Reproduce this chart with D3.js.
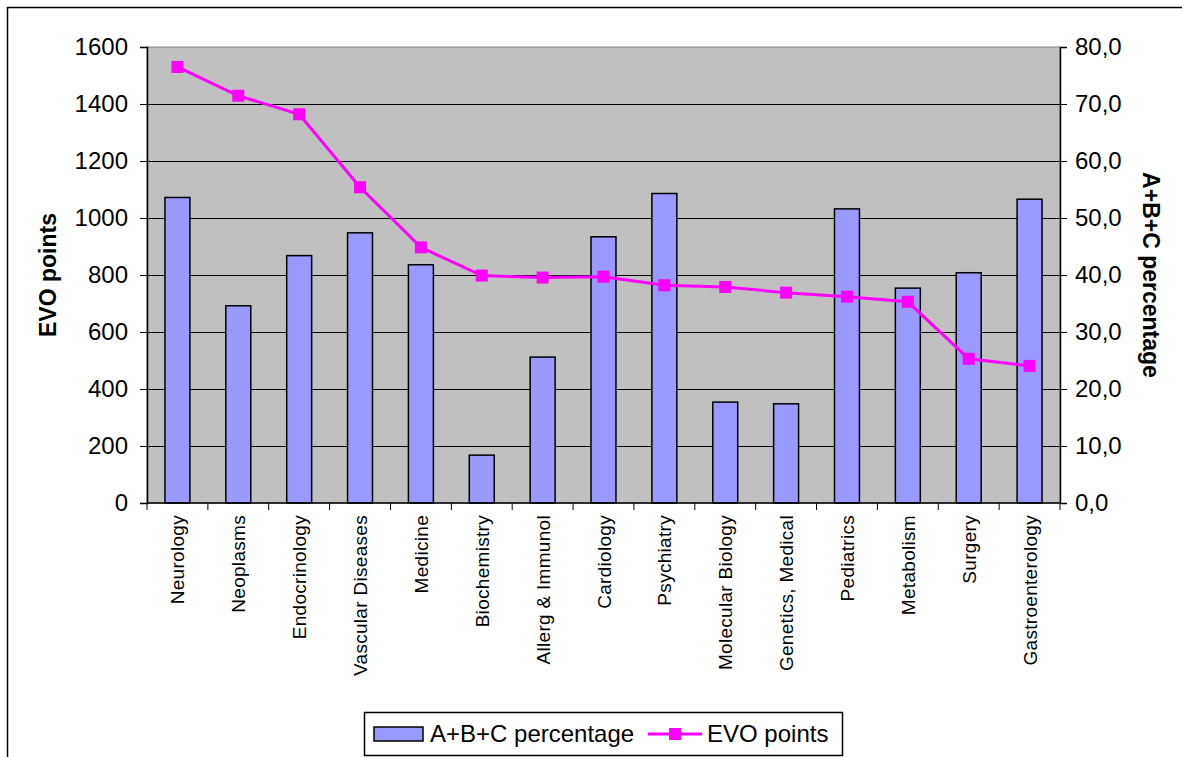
<!DOCTYPE html>
<html>
<head>
<meta charset="utf-8">
<script src="https://cdn.jsdelivr.net/npm/d3@7"></script>
<style>
  html, body { margin: 0; padding: 0; background: #fff; }
  svg { display: block; font-family: "Liberation Sans", Arial, sans-serif; }
</style>
</head>
<body>
<div id="chart"></div>
<script>
// categories along the x axis
const categories = [
  "Neurology", "Neoplasms", "Endocrinology", "Vascular Diseases", "Medicine",
  "Biochemistry", "Allerg & Immunol", "Cardiology", "Psychiatry", "Molecular Biology",
  "Genetics, Medical", "Pediatrics", "Metabolism", "Surgery", "Gastroenterology"
];
// bars, right axis
const abcPercentage = [53.6, 34.6, 43.4, 47.4, 41.8, 8.4, 25.6, 46.7, 54.3, 17.7, 17.4, 51.6, 37.7, 40.4, 53.3];
// line, left axis
const evoPoints = [1530, 1429, 1364, 1108, 897, 798, 791, 794, 764, 758, 738, 724, 706, 506, 481];

const leftTicks = [0, 200, 400, 600, 800, 1000, 1200, 1400, 1600];
const rightTicks = [0, 10, 20, 30, 40, 50, 60, 70, 80];

const W = 1182, H = 757;
const plot = { l: 147, r: 1060, t: 47, b: 503 };

const svg = d3.select("#chart").append("svg")
  .attr("width", W)
  .attr("height", H);

// outer chart border
svg.append("rect")
  .attr("x", 7.5).attr("y", 7.5)
  .attr("width", 1300).attr("height", 900)
  .attr("fill", "#fff")
  .attr("stroke", "#000")
  .attr("stroke-width", 1.5);

const x = d3.scaleBand().domain(categories).range([plot.l, plot.r]).padding(0);
const yL = d3.scaleLinear().domain([0, 1600]).range([plot.b, plot.t]);
const yR = d3.scaleLinear().domain([0, 80]).range([plot.b, plot.t]);

// plot background
svg.append("rect")
  .attr("x", plot.l).attr("y", plot.t)
  .attr("width", plot.r - plot.l).attr("height", plot.b - plot.t)
  .attr("fill", "#c0c0c0")
  .attr("stroke", "#808080");

// gridlines
svg.append("g").selectAll("line")
  .data(leftTicks.slice(1, -1))
  .join("line")
  .attr("x1", plot.l).attr("x2", plot.r)
  .attr("y1", d => Math.round(yL(d)) + 0.5).attr("y2", d => Math.round(yL(d)) + 0.5)
  .attr("stroke", "#000");

// bars
const barW = x.bandwidth() * 0.41;
svg.append("g").selectAll("rect")
  .data(abcPercentage)
  .join("rect")
  .attr("x", (d, i) => x(categories[i]) + (x.bandwidth() - barW) / 2)
  .attr("y", d => yR(d))
  .attr("width", barW)
  .attr("height", d => plot.b - yR(d))
  .attr("fill", "#9999ff")
  .attr("stroke", "#000")
  .attr("stroke-width", 1.5);

// left axis
const axL = svg.append("g")
  .attr("transform", `translate(${plot.l},0)`)
  .call(d3.axisLeft(yL).tickValues(leftTicks).tickSize(7).tickPadding(12).tickFormat(d3.format("d")));
axL.select(".domain").attr("stroke", "#000").attr("stroke-width", 1.5);
axL.selectAll("text").attr("font-size", 24).attr("fill", "#000").attr("font-family", "Liberation Sans, Arial");

// right axis
const axR = svg.append("g")
  .attr("transform", `translate(${plot.r},0)`)
  .call(d3.axisRight(yR).tickValues(rightTicks).tickSize(7).tickPadding(8)
    .tickFormat(d => d3.format(".1f")(d).replace(".", ",")));
axR.select(".domain").attr("stroke", "#000").attr("stroke-width", 1.5);
axR.selectAll("text").attr("font-size", 24).attr("fill", "#000").attr("font-family", "Liberation Sans, Arial");

// bottom axis: ticks at band boundaries
const axB = svg.append("g").attr("transform", `translate(0,${plot.b})`);
axB.append("line")
  .attr("x1", plot.l).attr("x2", plot.r)
  .attr("y1", 0).attr("y2", 0)
  .attr("stroke", "#000").attr("stroke-width", 1.5);
axB.selectAll("line.tick")
  .data(categories.concat(["_end"]))
  .join("line")
  .attr("class", "tick")
  .attr("x1", (d, i) => i < categories.length ? x(d) : plot.r)
  .attr("x2", (d, i) => i < categories.length ? x(d) : plot.r)
  .attr("y1", 0).attr("y2", 7)
  .attr("stroke", "#000");
axB.selectAll("text")
  .data(categories)
  .join("text")
  .attr("transform", d => `translate(${x(d) + x.bandwidth() / 2 + 7},12) rotate(-90)`)
  .attr("text-anchor", "end")
  .attr("font-size", 19)
  .attr("letter-spacing", 0.3)
  .attr("fill", "#000")
  .text(d => d);

// EVO line
const line = d3.line()
  .x((d, i) => x(categories[i]) + x.bandwidth() / 2)
  .y(d => yL(d));
svg.append("path")
  .datum(evoPoints)
  .attr("d", line)
  .attr("fill", "none")
  .attr("stroke", "#ff00ff")
  .attr("stroke-width", 3);
svg.append("g").selectAll("rect")
  .data(evoPoints)
  .join("rect")
  .attr("x", (d, i) => x(categories[i]) + x.bandwidth() / 2 - 6)
  .attr("y", d => yL(d) - 6)
  .attr("width", 12).attr("height", 12)
  .attr("fill", "#ff00ff");

// axis titles
svg.append("text")
  .attr("transform", `translate(56,${(plot.t + plot.b) / 2}) rotate(-90)`)
  .attr("text-anchor", "middle")
  .attr("font-size", 23)
  .attr("font-weight", "bold")
  .text("EVO points");
svg.append("text")
  .attr("transform", `translate(1143,${(plot.t + plot.b) / 2}) rotate(90)`)
  .attr("text-anchor", "middle")
  .attr("font-size", 23)
  .attr("font-weight", "bold")
  .text("A+B+C percentage");

// legend
const lg = svg.append("g");
lg.append("rect")
  .attr("x", 364.5).attr("y", 712.5)
  .attr("width", 478).attr("height", 43)
  .attr("fill", "#fff").attr("stroke", "#000").attr("stroke-width", 1.5);
lg.append("rect")
  .attr("x", 374).attr("y", 727)
  .attr("width", 49).attr("height", 14)
  .attr("fill", "#9999ff").attr("stroke", "#000").attr("stroke-width", 1.5);
lg.append("text")
  .attr("x", 430).attr("y", 742)
  .attr("font-size", 24)
  .text("A+B+C percentage");
lg.append("line")
  .attr("x1", 648).attr("x2", 702)
  .attr("y1", 734).attr("y2", 734)
  .attr("stroke", "#ff00ff").attr("stroke-width", 3);
lg.append("rect")
  .attr("x", 669).attr("y", 728)
  .attr("width", 12).attr("height", 12)
  .attr("fill", "#ff00ff");
lg.append("text")
  .attr("x", 707).attr("y", 742)
  .attr("font-size", 24)
  .text("EVO points");
</script>
</body>
</html>
